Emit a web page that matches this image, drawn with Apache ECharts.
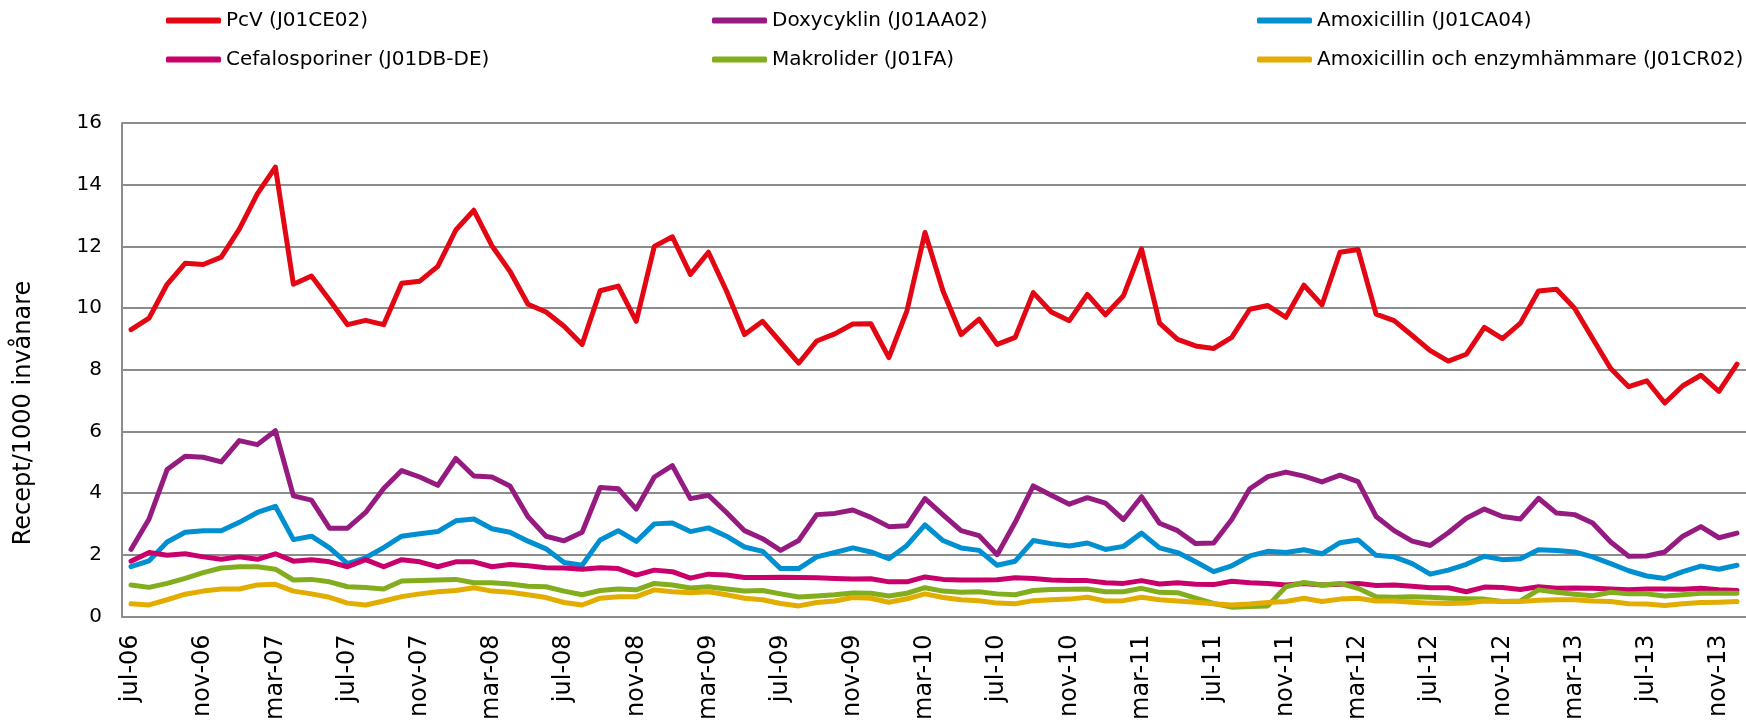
<!DOCTYPE html>
<html>
<head>
<meta charset="utf-8">
<title>Recept/1000 invånare</title>
<script src="https://cdn.jsdelivr.net/npm/echarts@6/dist/echarts.min.js"></script>
<style>
    html, body { margin: 0; padding: 0; background: #fff; }
    #chart { width: 1746px; height: 723px; }
</style>
</head>
<body>
<div id="chart"></div>
<script>
// månader jul-06 .. dec-13
const monthNames = ["jan", "feb", "mar", "apr", "maj", "jun", "jul", "aug", "sep", "okt", "nov", "dec"];
const categories = [];
for (let y = 2006; y <= 2013; y++) {
    for (let m = 0; m < 12; m++) {
        if (y === 2006 && m < 6) continue;
        categories.push(monthNames[m] + "-" + String(y).slice(2));
    }
}

const pcv = [
    9.30, 9.67, 10.77, 11.45, 11.41, 11.65, 12.56, 13.70, 14.57, 10.77, 11.04, 10.26,
    9.46, 9.60, 9.46, 10.80, 10.87, 11.35, 12.53, 13.17, 12.02, 11.19, 10.12, 9.87,
    9.41, 8.82, 10.56, 10.71, 9.57, 12.00, 12.31, 11.09, 11.81, 10.55, 9.14, 9.57,
    8.89, 8.21, 8.93, 9.16, 9.48, 9.49, 8.39, 9.91, 12.45, 10.55, 9.14, 9.64,
    8.82, 9.05, 10.50, 9.87, 9.59, 10.44, 9.78, 10.40, 11.92, 9.51, 8.98, 8.77,
    8.69, 9.05, 9.96, 10.08, 9.70, 10.74, 10.10, 11.81, 11.90, 9.80, 9.59, 9.11,
    8.62, 8.28, 8.50, 9.37, 9.01, 9.51, 10.55, 10.61, 9.99, 9.01, 8.04, 7.45,
    7.64, 6.92, 7.48, 7.82, 7.30, 8.18
];
const doxycyklin = [
    2.17, 3.16, 4.76, 5.19, 5.16, 5.01, 5.70, 5.57, 6.02, 3.91, 3.77, 2.86,
    2.86, 3.37, 4.15, 4.73, 4.52, 4.25, 5.12, 4.55, 4.52, 4.23, 3.23, 2.60,
    2.45, 2.73, 4.18, 4.14, 3.48, 4.52, 4.89, 3.82, 3.93, 3.37, 2.78, 2.52,
    2.14, 2.46, 3.30, 3.34, 3.45, 3.21, 2.91, 2.94, 3.82, 3.29, 2.78, 2.62,
    2.00, 3.05, 4.23, 3.93, 3.64, 3.85, 3.67, 3.14, 3.88, 3.02, 2.78, 2.36,
    2.38, 3.14, 4.14, 4.53, 4.68, 4.55, 4.36, 4.58, 4.37, 3.24, 2.78, 2.44,
    2.30, 2.71, 3.18, 3.48, 3.24, 3.16, 3.83, 3.35, 3.30, 3.03, 2.41, 1.95,
    1.96, 2.09, 2.60, 2.91, 2.55, 2.70
];
const amoxicillin = [
    1.61, 1.80, 2.41, 2.73, 2.78, 2.78, 3.05, 3.37, 3.57, 2.49, 2.60, 2.22,
    1.71, 1.90, 2.23, 2.60, 2.68, 2.75, 3.10, 3.16, 2.84, 2.73, 2.44, 2.19,
    1.75, 1.66, 2.48, 2.78, 2.43, 3.00, 3.03, 2.75, 2.87, 2.60, 2.25, 2.11,
    1.55, 1.55, 1.93, 2.07, 2.22, 2.09, 1.87, 2.30, 2.97, 2.46, 2.22, 2.14,
    1.66, 1.79, 2.46, 2.36, 2.28, 2.38, 2.17, 2.27, 2.70, 2.22, 2.07, 1.77,
    1.45, 1.64, 1.96, 2.11, 2.07, 2.16, 2.03, 2.39, 2.48, 1.98, 1.93, 1.71,
    1.37, 1.50, 1.69, 1.95, 1.84, 1.87, 2.16, 2.14, 2.09, 1.93, 1.71, 1.48,
    1.31, 1.23, 1.45, 1.63, 1.53, 1.66
];
const cefalosporiner = [
    1.79, 2.07, 1.98, 2.03, 1.93, 1.85, 1.93, 1.85, 2.03, 1.79, 1.84, 1.77,
    1.61, 1.84, 1.61, 1.84, 1.77, 1.61, 1.77, 1.77, 1.61, 1.68, 1.64, 1.58,
    1.57, 1.53, 1.58, 1.55, 1.34, 1.50, 1.45, 1.24, 1.37, 1.34, 1.26, 1.26,
    1.27, 1.26, 1.25, 1.23, 1.21, 1.22, 1.12, 1.12, 1.28, 1.20, 1.18, 1.18,
    1.19, 1.25, 1.23, 1.18, 1.16, 1.16, 1.09, 1.07, 1.16, 1.05, 1.09, 1.04,
    1.03, 1.14, 1.09, 1.07, 1.02, 1.07, 1.02, 1.04, 1.07, 1.00, 1.02, 0.98,
    0.93, 0.93, 0.80, 0.95, 0.94, 0.87, 0.96, 0.91, 0.92, 0.91, 0.89, 0.86,
    0.89, 0.89, 0.88, 0.91, 0.86, 0.84
];
const makrolider = [
    1.02, 0.94, 1.07, 1.23, 1.42, 1.57, 1.61, 1.61, 1.53, 1.18, 1.20, 1.12,
    0.96, 0.94, 0.89, 1.15, 1.16, 1.18, 1.20, 1.09, 1.09, 1.05, 0.98, 0.96,
    0.82, 0.70, 0.84, 0.89, 0.86, 1.07, 1.02, 0.92, 0.96, 0.89, 0.82, 0.84,
    0.73, 0.63, 0.66, 0.70, 0.76, 0.75, 0.66, 0.75, 0.93, 0.82, 0.78, 0.80,
    0.73, 0.70, 0.84, 0.87, 0.88, 0.89, 0.80, 0.80, 0.91, 0.78, 0.77, 0.59,
    0.42, 0.30, 0.32, 0.34, 0.96, 1.10, 1.02, 1.07, 0.91, 0.64, 0.62, 0.64,
    0.62, 0.59, 0.57, 0.56, 0.48, 0.50, 0.86, 0.78, 0.72, 0.67, 0.78, 0.73,
    0.73, 0.66, 0.70, 0.75, 0.75, 0.75
];
const amoxEnzym = [
    0.41, 0.37, 0.54, 0.72, 0.82, 0.89, 0.89, 1.02, 1.04, 0.82, 0.73, 0.62,
    0.43, 0.37, 0.50, 0.64, 0.73, 0.80, 0.84, 0.93, 0.82, 0.78, 0.70, 0.61,
    0.45, 0.37, 0.59, 0.64, 0.64, 0.86, 0.80, 0.77, 0.80, 0.70, 0.59, 0.54,
    0.42, 0.34, 0.45, 0.50, 0.61, 0.59, 0.46, 0.57, 0.73, 0.61, 0.54, 0.51,
    0.43, 0.41, 0.51, 0.54, 0.56, 0.62, 0.50, 0.51, 0.62, 0.54, 0.50, 0.46,
    0.41, 0.37, 0.40, 0.45, 0.48, 0.59, 0.48, 0.56, 0.59, 0.50, 0.50, 0.46,
    0.43, 0.42, 0.43, 0.50, 0.48, 0.48, 0.52, 0.54, 0.54, 0.50, 0.48, 0.41,
    0.40, 0.35, 0.41, 0.45, 0.46, 0.48
];

const seriesNames = [
    "PcV (J01CE02)",
    "Doxycyklin (J01AA02)",
    "Amoxicillin (J01CA04)",
    "Cefalosporiner (J01DB-DE)",
    "Makrolider (J01FA)",
    "Amoxicillin och enzymhämmare (J01CR02)"
];
const seriesData = [pcv, doxycyklin, amoxicillin, cefalosporiner, makrolider, amoxEnzym];
const colors = ["#e30613", "#951b81", "#008fd0", "#c9006b", "#82ad1d", "#e3ad00"];

const font = "DejaVu Sans";
const chart = echarts.init(document.getElementById("chart"));

function legendColumn(left, names) {
    return {
        left: left,
        top: 10,
        padding: 0,
        orient: "vertical",
        icon: "roundRect",
        itemWidth: 55,
        itemHeight: 6,
        itemGap: 18,
        data: names,
        textStyle: { fontFamily: font, fontSize: 20, color: "#000", lineHeight: 21 }
    };
}

let option = {
    animation: false,
    color: colors,
    legend: [
        legendColumn(166, [seriesNames[0], seriesNames[3]]),
        legendColumn(712, [seriesNames[1], seriesNames[4]]),
        legendColumn(1257, [seriesNames[2], seriesNames[5]])
    ],
    grid: { left: 122, top: 123, width: 1628, height: 499 },
    graphic: [{
        type: "text",
        x: 24,
        y: 413,
        rotation: Math.PI / 2,
        style: {
            text: "Recept/1000 invånare",
            font: "24px " + font,
            fill: "#000",
            align: "center",
            verticalAlign: "middle"
        }
    }],
    xAxis: {
        type: "category",
        data: categories,
        boundaryGap: true,
        axisLine: { lineStyle: { color: "#8c8c8c", width: 2 } },
        axisTick: { show: false },
        axisLabel: {
            interval: 3,
            rotate: 90,
            margin: 18,
            fontFamily: font,
            fontSize: 24,
            color: "#000"
        }
    },
    yAxis: {
        type: "value",
        min: 0,
        max: 16,
        interval: 2,
        axisLine: { show: true, lineStyle: { color: "#8c8c8c", width: 2 } },
        axisTick: { show: false },
        splitLine: { lineStyle: { color: "#8c8c8c", width: 2 } },
        axisLabel: { margin: 20, fontFamily: font, fontSize: 20, color: "#000" }
    },
    series: seriesNames.map(function (name, i) {
        return {
            name: name,
            type: "line",
            data: seriesData[i],
            symbol: "none",
            smooth: false,
            lineStyle: { width: 5, join: "round", cap: "round" }
        };
    })
};
chart.setOption(option);
</script>
</body>
</html>
